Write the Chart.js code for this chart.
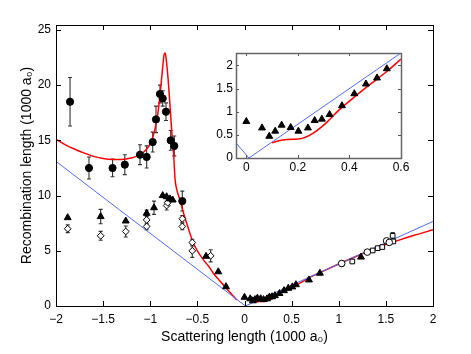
<!DOCTYPE html>
<html><head><meta charset="utf-8">
<script src="https://cdn.jsdelivr.net/npm/chart.js@4"></script>
<style>
html,body{margin:0;padding:0;background:#fff;}
#wrap{position:relative;width:471px;height:354px;overflow:hidden;}
#main{position:absolute;left:0;top:0;}
#inset{position:absolute;left:200px;top:40px;}
</style></head><body>
<div id="wrap">
<canvas id="main" width="471" height="354"></canvas>
<canvas id="inset" width="215" height="140"></canvas>
</div>
<script>
// ---- tick values and labels ----
const xTicks = [-2, -1.5, -1, -0.5, 0, 0.5, 1, 1.5, 2];
const xTickLabels = ['\u22122', '\u22121.5', '\u22121', '\u22120.5', '0', '0.5', '1', '1.5', '2'];
const yTicks = [0, 5, 10, 15, 20, 25];
const yTickLabels = ['0', '5', '10', '15', '20', '25'];
const insetXTicks = [0, 0.2, 0.4, 0.6];
const insetXTickLabels = ['0', '0.2', '0.4', '0.6'];
const insetYTicks = [0, 0.5, 1, 1.5, 2];
const insetYTickLabels = ['0', '0.5', '1', '1.5', '2'];

// ---- filled circles (with error bars) ----
const circleX = [-1.851, -1.65, -1.40, -1.27, -1.109, -1.038, -0.974, -0.939, -0.897, -0.868, -0.833, -0.783, -0.745, -0.66];
const circleY = [18.5, 12.5, 12.5, 12.8, 13.7, 13.5, 14.85, 16.9, 19.2, 18.8, 17.6, 15.0, 14.5, 9.5];
const circleErr = [2.2, 1.0, 0.8, 0.9, 0.9, 1.0, 0.9, 1.2, 0.8, 0.7, 0.8, 0.9, 0.9, 0.9];

// ---- filled triangles ----
const triX = [-1.876, -1.526, -1.26, -1.038, -0.960, -0.868, -0.826, -0.790, -0.762, -0.408, -0.278, -0.196,
  0.0, 0.061, 0.089, 0.112, 0.137, 0.172, 0.202, 0.239, 0.265, 0.293, 0.323, 0.371, 0.419, 0.464, 0.507, 0.545,
  0.684, 0.80, 1.236];
const triY = [8.0, 8.1, 7.7, 8.4, 8.9, 10.0, 9.9, 9.7, 9.6, 4.5, 3.1, 1.75,
  0.79, 0.65, 0.47, 0.58, 0.71, 0.66, 0.58, 0.65, 0.81, 0.84, 0.94, 1.13, 1.39, 1.60, 1.73, 1.93,
  2.36, 2.97, 4.43];
const triErr = [0, 0.65, 0, 0.3, 0.6, 0, 0, 0, 0, 0, 0, 0,
  0, 0, 0, 0, 0, 0, 0, 0, 0, 0, 0, 0, 0, 0, 0, 0,
  0, 0, 0];

// ---- open diamonds ----
const diaX = [-1.876, -1.526, -1.26, -1.038, -1.038, -0.826, -0.815, -0.66, -0.66, -0.554, -0.554, -0.359];
const diaY = [7.0, 6.36, 6.75, 7.8, 7.2, 9.1, 9.35, 7.9, 7.2, 5.75, 5.0, 4.55];
const diaErr = [0.35, 0.4, 0.5, 0.4, 0.3, 0.4, 0.3, 0.3, 0.3, 0.3, 0.6, 0.55];

// ---- open circles / squares (positive side) ----
const openCircX = [1.031, 1.303, 1.508, 1.536];
const openCircY = [3.85, 4.88, 5.9, 5.76];
const openCircErr = [0.25, 0, 0, 0];
const openSqX = [1.144, 1.360, 1.413, 1.462, 1.572, 1.579];
const openSqY = [4.03, 5.03, 5.24, 5.34, 6.36, 5.85];
const openSqErr = [0.1, 0, 0, 0, 0.3, 0];

// ---- theory curve (red) ----
const redLeftX = [-2, -1.9, -1.8, -1.7, -1.6, -1.5, -1.4, -1.3, -1.2, -1.15, -1.1, -1.05, -1.0, -0.95, -0.92, -0.9, -0.875, -0.86, -0.85, -0.84, -0.83, -0.81, -0.79, -0.77, -0.75, -0.737, -0.72, -0.70, -0.684, -0.65, -0.613, -0.58, -0.543, -0.5, -0.437, -0.38, -0.331, -0.27, -0.207, -0.15, -0.083];
const redLeftY = [15.1, 14.6, 14.2, 13.85, 13.55, 13.35, 13.27, 13.27, 13.4, 13.55, 13.75, 14.1, 14.7, 16.0, 17.4, 18.8, 21.0, 22.3, 22.9, 22.9, 22.3, 20.5, 18.1, 15.6, 13.5, 11.5, 10.6, 10.0, 9.6, 8.5, 7.5, 6.6, 5.7, 5.0, 4.2, 3.6, 2.97, 2.35, 1.75, 1.2, 0.55];
const redRightX = [0.1, 0.13, 0.16, 0.2, 0.22, 0.26, 0.31, 0.36, 0.415, 0.48, 0.545, 0.6, 0.7, 0.8, 1.0, 1.2, 1.4, 1.6, 1.8, 2.0];
const redRightY = [0.33, 0.38, 0.40, 0.41, 0.43, 0.54, 0.76, 1.04, 1.30, 1.59, 1.87, 2.14, 2.62, 3.02, 3.8, 4.55, 5.25, 5.85, 6.4, 6.9];

// ---- universal line (blue) ----
const blueX = [-2, 0.01, 2];
const blueY = [13.1, 0, 7.66];

const pts = (xs, ys, es) => xs.map((x, i) => ({x: x, y: ys[i], e: es ? es[i] : 0}));
const inInset = p => p.x >= -0.04 && p.x <= 0.6;

const FONT = "'Liberation Sans', Arial, Helvetica, sans-serif";

const errPlugin = {
  id: 'errbars',
  beforeDatasetsDraw(chart) {
    const {ctx, scales: {x, y}, chartArea: a} = chart;
    ctx.save();
    ctx.beginPath(); ctx.rect(a.left, a.top, a.width, a.height); ctx.clip();
    ctx.strokeStyle = '#333'; ctx.lineWidth = 1.1;
    chart.data.datasets.forEach(ds => {
      if (!ds.errbars) return;
      ds.data.forEach(p => {
        if (!p.e) return;
        const px = x.getPixelForValue(p.x);
        const y1 = y.getPixelForValue(p.y - p.e), y2 = y.getPixelForValue(p.y + p.e);
        ctx.beginPath();
        ctx.moveTo(px, y1); ctx.lineTo(px, y2);
        ctx.moveTo(px - 2, y1); ctx.lineTo(px + 2, y1);
        ctx.moveTo(px - 2, y2); ctx.lineTo(px + 2, y2);
        ctx.stroke();
      });
    });
    ctx.restore();
  }
};

const boxPlugin = {
  id: 'box',
  beforeDraw(chart, args, opts) {
    if (!opts.bg) return;
    const {ctx, chartArea: a} = chart;
    ctx.save(); ctx.fillStyle = opts.bg; ctx.fillRect(a.left, a.top, a.width, a.height); ctx.restore();
  },
  afterDraw(chart, args, opts) {
    const {ctx, chartArea: a, scales: {x, y}} = chart;
    const L = opts.tick;
    ctx.save();
    ctx.strokeStyle = opts.tickColor; ctx.lineWidth = 1;
    ctx.beginPath();
    x.ticks.forEach(t => {
      const px = Math.round(x.getPixelForValue(t.value)) + 0.5;
      ctx.moveTo(px, a.bottom); ctx.lineTo(px, a.bottom - L);
      ctx.moveTo(px, a.top); ctx.lineTo(px, a.top + L);
    });
    y.ticks.forEach(t => {
      const py = Math.round(y.getPixelForValue(t.value)) + 0.5;
      ctx.moveTo(a.left, py); ctx.lineTo(a.left + L, py);
      ctx.moveTo(a.right, py); ctx.lineTo(a.right - L, py);
    });
    ctx.stroke();
    ctx.strokeStyle = opts.color; ctx.lineWidth = opts.width;
    ctx.strokeRect(Math.round(a.left) + 0.5, Math.round(a.top) + 0.5, Math.round(a.width), Math.round(a.height));
    ctx.restore();
  }
};

function curve(data, color, w, smooth) {
  return {data: data, showLine: true, borderColor: color, borderWidth: w, pointRadius: 0,
    pointHoverRadius: 0, fill: false, tension: 0,
    cubicInterpolationMode: smooth ? 'monotone' : 'default', order: 10};
}
function markers(data, style, fill, r, order) {
  return {data: data, showLine: false, pointStyle: style, pointRadius: r, pointHoverRadius: r,
    backgroundColor: fill, borderColor: '#000', borderWidth: 1, errbars: true, order: order};
}

const circlePts = pts(circleX, circleY, circleErr);
const triPts = pts(triX, triY, triErr);
const diaPts = pts(diaX, diaY, diaErr);
const oCircPts = pts(openCircX, openCircY, openCircErr);
const oSqPts = pts(openSqX, openSqY, openSqErr);
const redL = pts(redLeftX, redLeftY);
const redR = pts(redRightX, redRightY);
const blue = pts(blueX, blueY);

function axis(min, max, ticks, labels, opt) {
  return Object.assign({
    type: 'linear', min: min, max: max,
    grid: {display: false, drawTicks: false},
    border: {display: false},
    afterBuildTicks: s => { s.ticks = ticks.map(v => ({value: v})); },
    ticks: {autoSkip: false, maxRotation: 0, color: '#000', font: {family: FONT, size: 12},
      callback: v => { const i = ticks.indexOf(v); return i >= 0 ? labels[i] : ''; }}
  }, opt);
}

Chart.defaults.font.family = FONT;

const mainX = axis(-2, 2, xTicks, xTickLabels, {
  afterFit: s => { s.height = 48; },
  title: {display: true, text: 'Scattering length (1000 a\u2080)', color: '#000', font: {family: FONT, size: 14}, padding: {top: 0, bottom: 8}}
});
mainX.ticks.padding = 6;
const mainY = axis(0, 25.45, yTicks, yTickLabels, {
  afterFit: s => { s.width = 56; },
  title: {display: true, text: 'Recombination length (1000 a\u2080)', color: '#000', font: {family: FONT, size: 14}, padding: {top: 19, bottom: 0}}
});
mainY.ticks.padding = 5;

new Chart(document.getElementById('main'), {
  type: 'scatter',
  data: {datasets: [
    markers(circlePts, 'circle', '#000', 3.6, 1),
    markers(triPts, 'triangle', '#000', 4, 2),
    markers(diaPts, 'rectRot', '#fff', 3.4, 3),
    markers(oCircPts, 'circle', '#fff', 3.3, 4),
    markers(oSqPts, 'rect', '#fff', 3.3, 5),
    curve(blue, '#4f6bff', 1, false),
    curve(redL, '#ff0000', 1.5, true),
    curve(redR, '#ff0000', 1.5, true)
  ]},
  options: {
    responsive: false, animation: false, devicePixelRatio: 1,
    layout: {padding: {left: 0, right: 38, top: 25, bottom: 0}},
    plugins: {legend: {display: false}, tooltip: {enabled: false},
      box: {tick: 5, tickColor: '#000', color: '#000', width: 1}},
    scales: {x: mainX, y: mainY}
  },
  plugins: [errPlugin, boxPlugin]
});

const inX = axis(-0.04, 0.6, insetXTicks, insetXTickLabels, {afterFit: s => { s.height = 22; }});
inX.ticks.padding = 2;
const inY = axis(0, 2.27, insetYTicks, insetYTickLabels, {afterFit: s => { s.width = 36; }});
inY.ticks.padding = 3;

new Chart(document.getElementById('inset'), {
  type: 'scatter',
  data: {datasets: [
    markers(triPts.filter(inInset), 'triangle', '#000', 4, 1),
    curve(blue, '#4f6bff', 1, false),
    curve(redR, '#ff0000', 1.5, true)
  ]},
  options: {
    responsive: false, animation: false, devicePixelRatio: 1,
    layout: {padding: {left: 0, right: 14, top: 13, bottom: 0}},
    plugins: {legend: {display: false}, tooltip: {enabled: false},
      box: {tick: 3, tickColor: '#555', color: '#666', width: 1.5, bg: '#fff'}},
    scales: {x: inX, y: inY}
  },
  plugins: [errPlugin, boxPlugin]
});
</script>
</body></html>
